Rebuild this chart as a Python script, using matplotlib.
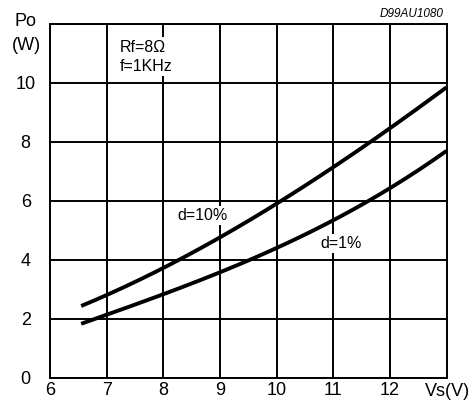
import matplotlib
matplotlib.use("Agg")
import matplotlib.pyplot as plt
import numpy as np

plt.rcParams['font.family'] = ['Liberation Sans', 'DejaVu Sans']

vs = [6.55, 7, 8, 9, 10, 11, 12, 13]
po_d10 = [2.44, 2.80, 3.71, 4.76, 5.93, 7.13, 8.45, 9.86]
po_d1 = [1.84, 2.12, 2.83, 3.59, 4.39, 5.35, 6.42, 7.70]
xticks = [6, 7, 8, 9, 10, 11, 12]
yticks = [0, 2, 4, 6, 8, 10]

fig = plt.figure(figsize=(4.73, 4.05), dpi=100)
ax = fig.add_axes([0.1057, 0.0674, 0.8383, 0.8733])
ax.set_xlim(6, 13)
ax.set_ylim(0, 12)
ax.set_xticks(range(6, 14))
ax.set_yticks(range(0, 13, 2))
ax.grid(True, color='black', linewidth=1.4, zorder=1)
ax.set_axisbelow(True)
for s in ax.spines.values():
    s.set_linewidth(1.4)
ax.tick_params(axis='x', length=0, labelsize=13, pad=3)
ax.tick_params(axis='y', length=0, labelsize=13, pad=17.5)
ax.set_xticklabels([str(t) for t in xticks] + [''])
ax.set_yticklabels([str(t) for t in yticks] + [''])
for lab in ax.get_yticklabels():
    lab.set_horizontalalignment('center')

def smooth(x, y):
    xs = np.linspace(x[0], x[-1], 200)
    c = np.polyfit(x, y, 3)
    return xs, np.polyval(c, xs)

for y in (po_d10, po_d1):
    xs, ys = smooth(vs, y)
    ax.plot(xs, ys, color='black', linewidth=2.8, zorder=3, clip_on=False, solid_capstyle='butt')

box = dict(facecolor='white', edgecolor='none', pad=1.5)
ax.text(7.23, 11.22, 'Rf=8Ω', fontsize=11.5, va='center', ha='left', bbox=box, zorder=4)
ax.text(7.23, 10.56, 'f=1KHz', fontsize=11.5, va='center', ha='left', bbox=box, zorder=4)
ax.text(8.69, 5.5, 'd=10%', fontsize=11.5, va='center', ha='center', bbox=box, zorder=4)
ax.text(11.14, 4.56, 'd=1%', fontsize=11.5, va='center', ha='center', bbox=box, zorder=4)

fig.text(25.5 / 473, 1 - 21 / 405, 'Po', fontsize=13, ha='center', va='center')
fig.text(26 / 473, 1 - 45 / 405, '(W)', fontsize=13, ha='center', va='center')
fig.text(1 - 3 / 473, 1 - 392 / 405, 'Vs(V)', fontsize=13, ha='right', va='center')
fig.text(1 - 29 / 473, 1 - 14 / 405, 'D99AU1080', fontsize=8.5, ha='right', va='center', style='italic')

fig.savefig('out.png', dpi=100)
